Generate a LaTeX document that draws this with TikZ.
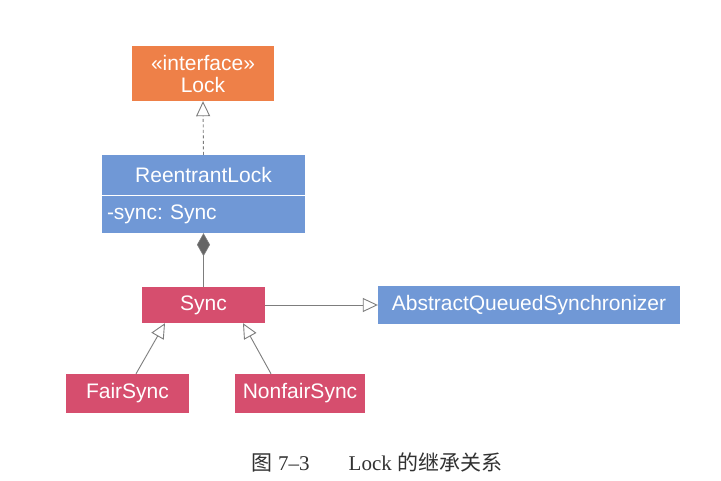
\documentclass[tikz,border=0pt]{standalone}
\usepackage{fontspec}
\setmainfont{Liberation Serif}
\newfontfamily\boxfont{Liberation Sans}
\newfontfamily\cjk{Noto Sans CJK SC}
\usetikzlibrary{arrows.meta,calc}
\definecolor{orangebox}{RGB}{238,128,72}
\definecolor{bluebox}{RGB}{112,152,214}
\definecolor{pinkbox}{RGB}{214,78,110}
\definecolor{edgegray}{RGB}{125,125,125}
\definecolor{capgray}{RGB}{50,50,50}
\frenchspacing
\begin{document}
\begin{tikzpicture}[x=1pt,y=-1pt,
  umlbox/.style={rectangle, inner sep=0pt, text=white, font=\boxfont\fontsize{21}{22}\selectfont, align=center},
  ifacebox/.style={umlbox, fill=orangebox},
  classbox/.style={umlbox, fill=bluebox},
  syncbox/.style={umlbox, fill=pinkbox},
  inherit/.style={draw=edgegray, line width=0.9pt, -{Triangle[open, length=15pt, width=14pt, line width=0.9pt]}},
  realize/.style={inherit, dash pattern=on 3pt off 2.5pt},
  compose/.style={draw=edgegray, line width=0.9pt, -{Diamond[length=23pt, width=13pt, fill=black!60, line width=0.6pt]}}
]
\useasboundingbox (0,0) rectangle (721,481);
\fill[white] (0,0) rectangle (721,481);

\node[ifacebox, minimum width=142pt, minimum height=55pt] (lock) at (203,73.5) {«interface»\\Lock};

\node[classbox, minimum width=203pt, minimum height=40pt] (rl) at (203.5,175) {ReentrantLock};
\node[classbox, minimum width=203pt, minimum height=38pt, text width=193pt, align=left] (rlattr) at (203.5,214) {-sync: Sync};
\draw[white, line width=0.8pt] (rl.south west) -- (rl.south east);

\node[syncbox, minimum width=123pt, minimum height=36pt] (sync) at (203.5,305) {Sync};
\node[classbox, minimum width=302pt, minimum height=38pt] (aqs) at (529,305) {AbstractQueuedSynchronizer};
\node[syncbox, minimum width=123pt, minimum height=39pt] (fair) at (127.5,393.5) {FairSync};
\node[syncbox, minimum width=130pt, minimum height=39pt] (nonfair) at (300,393.5) {NonfairSync};

\draw[realize] (rl.north) -- (lock.south);
\draw[compose] (sync.north) -- (rlattr.south);
\draw[inherit] (sync.east) -- (aqs.west);
\draw[inherit] ($(fair.north)+(8.5,0)$) -- ($(sync.south)+(-38.5,0)$);
\draw[inherit] ($(nonfair.north)+(-29,0)$) -- ($(sync.south)+(39.5,0)$);

\node[text=capgray, font=\fontsize{21}{23}\selectfont, anchor=base] (caption) at (377,470)
  {{\cjk 图}\ 7–3\hspace{39pt}Lock {\cjk 的继承关系}};
\end{tikzpicture}
\end{document}
